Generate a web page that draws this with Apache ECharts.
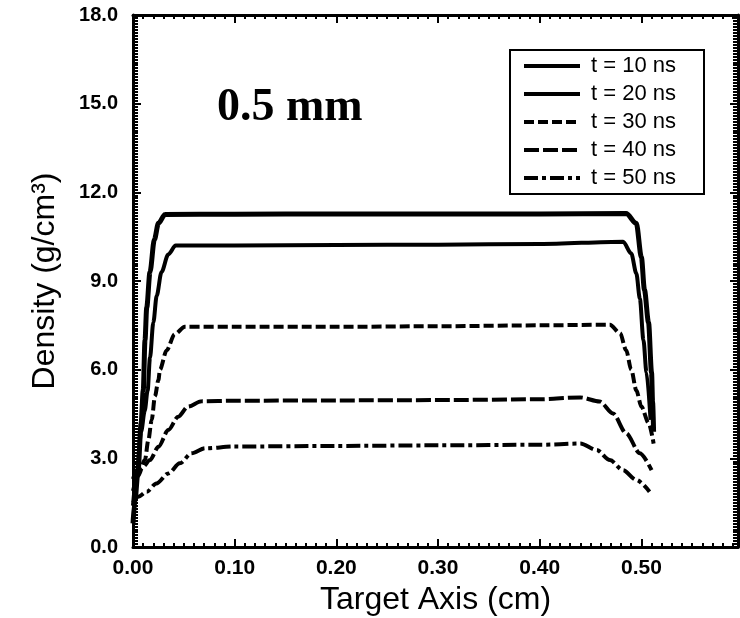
<!DOCTYPE html>
<html>
<head>
<meta charset="utf-8">
<script src="https://cdn.jsdelivr.net/npm/echarts@6/dist/echarts.min.js"></script>
<style>
  html, body { margin: 0; padding: 0; background: #fff; }
  #chart { width: 740px; height: 618px; }
</style>
</head>
<body>
<div id="chart"></div>
<script>
// Density profiles along the target axis, [position (cm), density (g/cm^3)]
const t10 = [[0,0.8],[0.002,1.6],[0.005,2.6],[0.008,4.2],[0.0101,5.3],[0.0118,7.0],[0.0135,8.1],[0.0167,9.3],[0.021,10.4],[0.025,10.95],[0.0315,11.25],[0.1,11.26],[0.2,11.27],[0.3,11.27],[0.4,11.27],[0.485,11.28],[0.495,10.95],[0.5,9.8],[0.503,8.7],[0.507,7.6],[0.51,5.9],[0.511,4.9],[0.512,3.9]];
const t20 = [[0,1.4],[0.004,2.6],[0.008,3.9],[0.0115,4.6],[0.0144,5.3],[0.0167,6.4],[0.02,7.6],[0.0233,8.5],[0.028,9.3],[0.0347,9.9],[0.042,10.2],[0.1,10.2],[0.2,10.22],[0.3,10.23],[0.4,10.25],[0.482,10.33],[0.49,9.93],[0.495,9.26],[0.4985,8.4],[0.502,7.0],[0.505,5.9],[0.509,4.3]];
const t30 = [[0,1.9],[0.005,2.4],[0.0118,2.95],[0.015,3.6],[0.0184,4.3],[0.0216,5.1],[0.025,5.65],[0.0265,6.0],[0.033,6.65],[0.041,7.2],[0.051,7.45],[0.1,7.45],[0.2,7.45],[0.3,7.47],[0.4,7.5],[0.469,7.52],[0.479,7.23],[0.485,6.66],[0.49,6.0],[0.495,5.3],[0.5,4.75],[0.507,4.2],[0.512,3.5]];
const t40 = [[0,2.3],[0.0036,2.6],[0.01,2.72],[0.0167,2.94],[0.025,3.39],[0.0347,3.96],[0.0445,4.41],[0.054,4.75],[0.0675,4.93],[0.1,4.95],[0.2,4.96],[0.3,4.97],[0.4,5.0],[0.44,5.06],[0.459,4.92],[0.472,4.52],[0.485,3.85],[0.4985,3.17],[0.51,2.6]];
const t50 = [[0,1.5],[0.0052,1.7],[0.0135,1.87],[0.023,2.15],[0.0347,2.49],[0.046,2.83],[0.0577,3.17],[0.0708,3.34],[0.1,3.4],[0.2,3.42],[0.3,3.44],[0.4,3.46],[0.44,3.5],[0.456,3.28],[0.469,2.94],[0.482,2.6],[0.495,2.27],[0.508,1.87]];

const seriesNames = ['t = 10 ns', 't = 20 ns', 't = 30 ns', 't = 40 ns', 't = 50 ns'];
const seriesData = [t10, t20, t30, t40, t50];
const lineWidths = [5, 4, 4, 4, 4];
const dashes = ['solid', 'solid', [10, 4], [15, 4], [14, 4, 4, 4]];

const sans = 'Liberation Sans, Arial, Helvetica, sans-serif';

// boxed frame: every side carries inward ticks
function frameAxis(extra, minorSplit, minorLen) {
  return Object.assign({
    axisLine: { show: true, onZero: false, lineStyle: { color: '#000', width: 3 } },
    axisTick: { show: true, inside: true, length: 8, lineStyle: { color: '#000', width: 2 } },
    minorTick: { show: true, splitNumber: minorSplit, length: minorLen, lineStyle: { color: '#000', width: 2 } },
    splitLine: { show: false },
    minorSplitLine: { show: false }
  }, extra);
}

const chart = echarts.init(document.getElementById('chart'), null, { renderer: 'canvas' });
chart.setOption({
  animation: false,
  backgroundColor: '#fff',
  title: {
    text: '0.5 mm',
    left: 212,
    top: 80,
    textStyle: { fontFamily: 'Liberation Serif, Times New Roman, serif', fontWeight: 'bold', fontSize: 46, color: '#000' }
  },
  legend: {
    orient: 'vertical',
    left: 510,
    top: 50,
    padding: [5, 28, 5, 12],
    itemWidth: 56,
    itemHeight: 14,
    itemGap: 6,
    borderColor: '#000',
    borderWidth: 2,
    backgroundColor: '#fff',
    itemStyle: { opacity: 0 },
    lineStyle: { width: 4 },
    textStyle: { fontFamily: sans, fontSize: 22, color: '#000', padding: [0, 0, 0, 6] },
    data: seriesNames
  },
  grid: { left: 133, right: 2, top: 15, bottom: 71, containLabel: false, outerBoundsMode: 'none' },
  xAxis: [
    frameAxis({
      type: 'value', min: 0, max: 0.595, interval: 0.1, position: 'bottom',
      axisLabel: {
        color: '#000', fontFamily: sans, fontWeight: 'bold', fontSize: 21, margin: 11,
        showMaxLabel: false,
        formatter: v => v.toFixed(2)
      },
      name: 'Target Axis (cm)', nameLocation: 'middle', nameGap: 34,
      nameTextStyle: { color: '#000', fontFamily: sans, fontSize: 32 }
    }, 10, 4),
    frameAxis({
      type: 'value', min: 0, max: 0.595, interval: 0.1, position: 'top',
      axisLabel: { show: false }
    }, 10, 4)
  ],
  yAxis: [
    frameAxis({
      type: 'value', min: 0, max: 18, interval: 3, position: 'left',
      axisLabel: {
        color: '#000', fontFamily: sans, fontWeight: 'bold', fontSize: 20, margin: 15,
        formatter: v => v.toFixed(1)
      },
      name: 'Density (g/cm³)', nameLocation: 'middle', nameGap: 72,
      nameTextStyle: { color: '#000', fontFamily: sans, fontSize: 32 }
    }, 30, 5),
    frameAxis({
      type: 'value', min: 0, max: 18, interval: 3, position: 'right',
      axisLabel: { show: false }
    }, 30, 5)
  ],
  series: seriesNames.map((name, i) => ({
    name: name,
    type: 'line',
    data: seriesData[i],
    xAxisIndex: 0,
    yAxisIndex: 0,
    symbol: 'none',
    smooth: 0.3,
    smoothMonotone: 'x',
    color: '#000',
    lineStyle: { color: '#000', width: lineWidths[i], type: dashes[i] }
  }))
});
</script>
</body>
</html>
